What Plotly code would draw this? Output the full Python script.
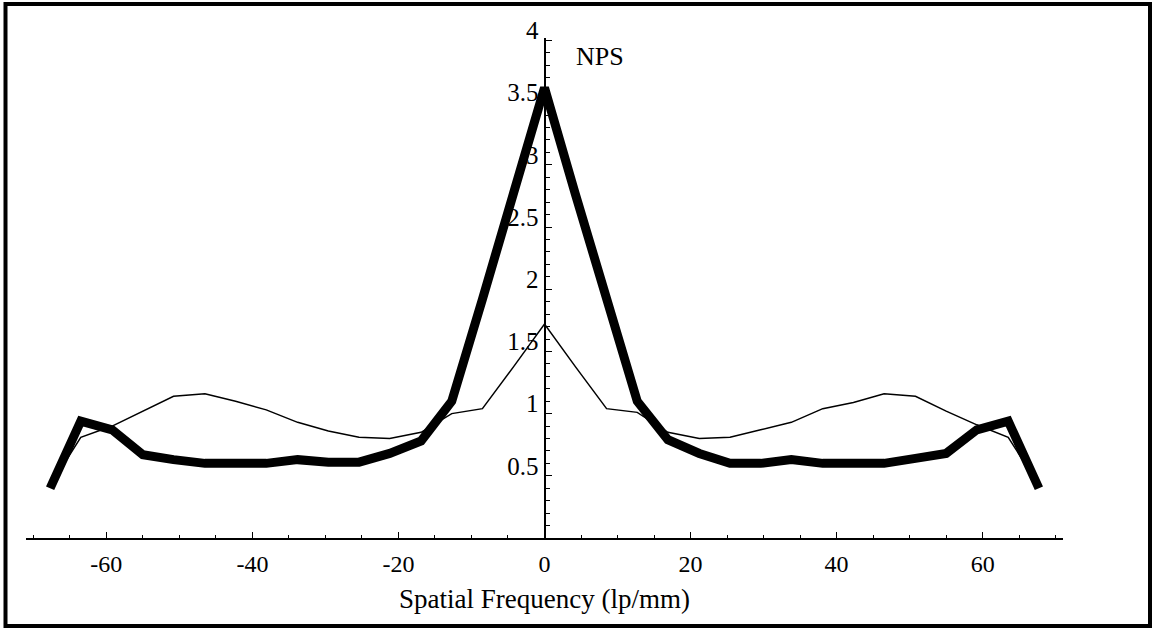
import plotly.graph_objects as go

# Spatial frequency samples (lp/mm)
freq = [-67.7, -63.5, -59.2, -55.0, -50.8, -46.5, -42.3, -38.1, -33.8, -29.6, -25.4,
        -21.2, -16.9, -12.7, -8.5, -4.2, 0.0, 4.2, 8.5, 12.7, 16.9, 21.2, 25.4,
        29.6, 33.8, 38.1, 42.3, 46.5, 50.8, 55.0, 59.2, 63.5, 67.7]

# NPS, thick curve
nps_thick = [0.40, 0.94, 0.87, 0.67, 0.63, 0.60, 0.60, 0.60, 0.63, 0.61, 0.61,
             0.68, 0.78, 1.10, 1.92, 2.77, 3.62, 2.77, 1.92, 1.10, 0.79, 0.68,
             0.60, 0.60, 0.63, 0.60, 0.60, 0.60, 0.64, 0.68, 0.87, 0.94, 0.40]

# NPS, thin curve
nps_thin = [0.42, 0.81, 0.90, 1.02, 1.14, 1.16, 1.10, 1.03, 0.93, 0.86, 0.81,
            0.80, 0.85, 1.00, 1.04, 1.38, 1.72, 1.38, 1.04, 1.01, 0.85, 0.80,
            0.81, 0.87, 0.93, 1.04, 1.09, 1.16, 1.14, 1.02, 0.91, 0.81, 0.42]

x_tickvals = [-60, -40, -20, 0, 20, 40, 60]
x_ticktext = ["-60", "-40", "-20", "0", "20", "40", "60"]
y_tickvals = [0.5, 1, 1.5, 2, 2.5, 3, 3.5, 4]
y_ticktext = ["0.5", "1", "1.5", "2", "2.5", "3", "3.5", "4"]

FONT = "Liberation Serif"

fig = go.Figure()
fig.add_trace(go.Scatter(x=freq, y=nps_thin, mode="lines",
                         line=dict(color="black", width=1.5), showlegend=False))
fig.add_trace(go.Scatter(x=freq, y=nps_thick, mode="lines",
                         line=dict(color="black", width=9), showlegend=False))

W, H = 1154, 629
ml, mr, mt, mb = 26, 91, 38, 91
pw, ph = W - ml - mr, H - mt - mb

def px2paper_x(px):
    return (px - ml) / pw

def px2paper_y(py):
    return (H - mb - py) / ph

fig.update_layout(
    width=W, height=H,
    margin=dict(l=ml, r=mr, t=mt, b=mb, pad=0),
    paper_bgcolor="white", plot_bgcolor="white",
    font=dict(family=FONT, color="black", size=24),
    xaxis=dict(
        range=[-71, 71], showgrid=False, zeroline=False,
        showline=True, linecolor="black", linewidth=2,
        tickmode="array", tickvals=x_tickvals, ticktext=x_ticktext,
        ticks="inside", ticklen=6, tickwidth=1.2, tickcolor="black",
        minor=dict(dtick=5, tick0=0, ticks="inside", ticklen=3, tickwidth=1, tickcolor="black"),
        tickfont=dict(family=FONT, size=24),
        ticklabelstandoff=3,
        title=dict(text="Spatial Frequency (lp/mm)", font=dict(family=FONT, size=27), standoff=13),
    ),
    yaxis=dict(
        range=[0, 4.02], showgrid=False, zeroline=False,
        anchor="free", position=0.5,
        showline=True, linecolor="black", linewidth=2,
        tickmode="array", tickvals=y_tickvals, ticktext=y_ticktext,
        ticks="inside", ticklen=6, tickwidth=1.2, tickcolor="black",
        minor=dict(dtick=0.1, tick0=0, ticks="inside", ticklen=4, tickwidth=1, tickcolor="black"),
        tickfont=dict(family=FONT, size=25),
        ticklabelstandoff=0,
        ticklabelshift=-10,
    ),
    annotations=[dict(x=4.0, y=3.87, xref="x", yref="y", text="NPS", showarrow=False,
                      xanchor="left", yanchor="middle", font=dict(family=FONT, size=26))],
    shapes=[dict(type="rect", xref="paper", yref="paper",
                 x0=px2paper_x(5.5), x1=px2paper_x(1150), y0=px2paper_y(626), y1=px2paper_y(4),
                 line=dict(color="black", width=4), fillcolor="rgba(0,0,0,0)", layer="above")],
)

fig.write_html("out.html", config={"displayModeBar": False},
               post_script="document.body.style.margin='0';document.body.style.overflow='hidden';")
